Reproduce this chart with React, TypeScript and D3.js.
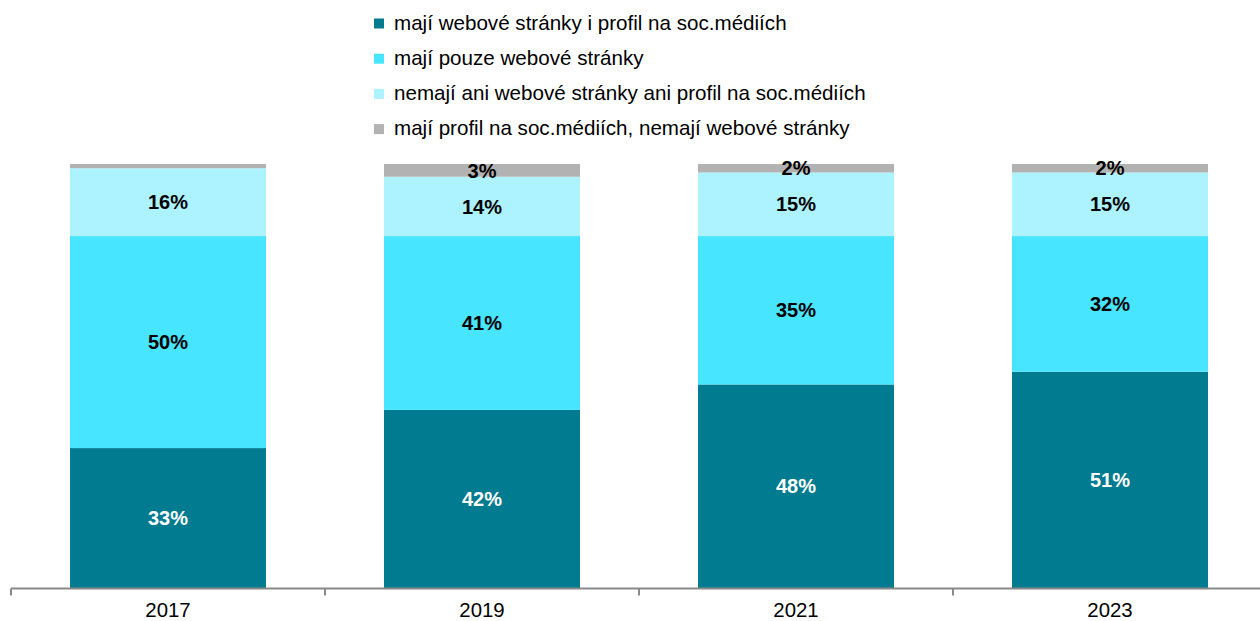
import React from "react";
import * as d3 from "d3";

const years = ["2017", "2019", "2021", "2023"];
const seriesNames = [
  "mají webové stránky i profil na soc.médiích",
  "mají pouze webové stránky",
  "nemají ani webové stránky ani profil na soc.médiích",
  "mají profil na soc.médiích, nemají webové stránky",
];
const webAndSocial = [33, 42, 48, 51];
const webOnly = [50, 41, 35, 32];
const neither = [16, 14, 15, 15];
const socialOnly = [1, 3, 2, 2];
const showLabel = [
  [true, true, true, true],
  [true, true, true, true],
  [true, true, true, true],
  [false, true, true, true],
];
const colors = ["#007B8F", "#47E5FF", "#ACF3FF", "#B2B2B2"];
const labelColors = ["#FFFFFF", "#000000", "#000000", "#000000"];

const W = 1260;
const H = 621;
const FONT = "'Liberation Sans', Arial, Helvetica, sans-serif";

export default function App() {
  const seriesValues = [webAndSocial, webOnly, neither, socialOnly];
  const keys = ["s0", "s1", "s2", "s3"];
  const rows = years.map((y, i) => {
    const r: any = { year: y };
    keys.forEach((k, j) => (r[k] = seriesValues[j][i]));
    return r;
  });
  const stacked = d3.stack<any>().keys(keys)(rows);

  const x = d3
    .scaleBand<string>()
    .domain(years)
    .range([11, 1267])
    .paddingInner(118 / 314)
    .paddingOuter(59 / 314);
  const y = d3.scaleLinear().domain([0, 100]).range([588, 164]);
  const step = x.step();
  const axisY = 588.5;

  return (
    <svg
      width={W}
      height={H}
      style={{ position: "absolute", left: 0, top: 0, background: "#fff" }}
    >
      {/* legend */}
      {seriesNames.map((name, i) => {
        const base = 29.5 + i * 35.2;
        return (
          <g key={name}>
            <rect x={374} y={base - 11} width={10} height={10} fill={colors[i]} />
            <text
              x={394}
              y={base}
              fontFamily={FONT}
              fontSize={20.6}
              fill="#000"
            >
              {name}
            </text>
          </g>
        );
      })}

      {/* bars */}
      {stacked.map((s, si) => (
        <g key={s.key}>
          {s.map((d, i) => (
            <rect
              key={i}
              x={x(years[i])}
              y={y(d[1])}
              width={x.bandwidth()}
              height={y(d[0]) - y(d[1])}
              fill={colors[si]}
            />
          ))}
        </g>
      ))}

      {/* value labels */}
      {stacked.map((s, si) => (
        <g key={"l" + s.key}>
          {s.map((d, i) =>
            showLabel[si][i] ? (
              <text
                key={i}
                x={(x(years[i]) as number) + x.bandwidth() / 2}
                y={(y(d[0]) + y(d[1])) / 2}
                dy="0.36em"
                textAnchor="middle"
                fontFamily={FONT}
                fontWeight="bold"
                fontSize={20}
                fill={labelColors[si]}
              >
                {seriesValues[si][i] + "%"}
              </text>
            ) : null
          )}
        </g>
      ))}

      {/* x axis */}
      <line x1={11} x2={1267} y1={axisY} y2={axisY} stroke="#898989" strokeWidth={2} />
      {d3.range(years.length + 1).map((k) => {
        const tx = 11 + k * step;
        return (
          <line
            key={k}
            x1={tx}
            x2={tx}
            y1={axisY}
            y2={axisY + 7}
            stroke="#898989"
            strokeWidth={2}
          />
        );
      })}
      {years.map((yr) => (
        <text
          key={yr}
          x={(x(yr) as number) + x.bandwidth() / 2}
          y={617}
          textAnchor="middle"
          fontFamily={FONT}
          fontSize={20.4}
          fill="#000"
        >
          {yr}
        </text>
      ))}
    </svg>
  );
}
